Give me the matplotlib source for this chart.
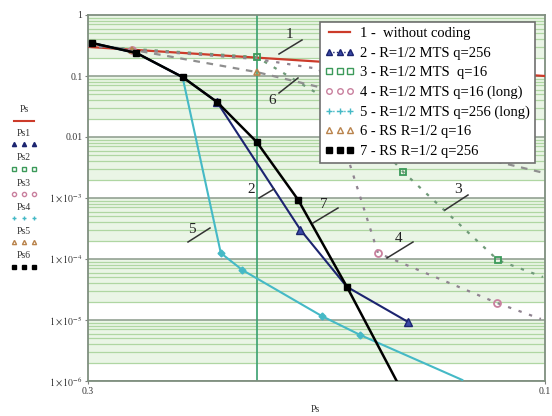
import numpy as np
import matplotlib.pyplot as plt
from matplotlib.lines import Line2D

plt.rcParams['font.family'] = ['Liberation Serif', 'DejaVu Serif']
plt.rcParams['mathtext.fontset'] = 'stix'

# 1 - without coding
ps1 = [0.3, 0.1]
pe1 = [0.3, 0.1]
# 2 - R=1/2 MTS q=256
ps2 = [0.297, 0.267, 0.239, 0.220, 0.180, 0.161, 0.139]
pe2 = [0.347, 0.238, 0.096, 0.0375, 3.0e-4, 3.5e-5, 9.3e-6]
# 3 - R=1/2 MTS q=16
ps3 = [0.3, 0.2, 0.16, 0.1406, 0.112, 0.1005]
pe3 = [0.31, 0.205, 0.025, 2.67e-3, 9.6e-5, 5.07e-5]
# 4 - R=1/2 MTS q=16 (long)
ps4 = [0.3, 0.27, 0.2, 0.172, 0.158, 0.1494, 0.1122, 0.101]
pe4 = [0.31, 0.27, 0.19, 0.13, 2.0e-3, 1.25e-4, 1.9e-5, 1.04e-5]
# 5 - R=1/2 MTS q=256 (long)
ps5 = [0.297, 0.267, 0.239, 0.218, 0.207, 0.171, 0.156, 0.122]
pe5 = [0.347, 0.238, 0.096, 1.25e-4, 6.6e-5, 1.16e-5, 5.7e-6, 1.04e-6]
# 6 - RS R=1/2 q=16
ps6 = [0.3, 0.27, 0.2, 0.16, 0.1141, 0.1005]
pe6 = [0.33, 0.27, 0.116, 0.05, 4.2e-3, 2.6e-3]
# 7 - RS R=1/2 q=256
ps7 = [0.297, 0.267, 0.239, 0.220, 0.200, 0.181, 0.161, 0.140]
pe7 = [0.347, 0.238, 0.096, 0.0375, 0.0083, 9.3e-4, 3.5e-5, 5.5e-7]

legend_txt = ['1 -  without coding', '2 - R=1/2 MTS q=256', '3 - R=1/2 MTS  q=16',
              '4 - R=1/2 MTS q=16 (long)', '5 - R=1/2 MTS q=256 (long)',
              '6 - RS R=1/2 q=16', '7 - RS R=1/2 q=256']
trace_names = ['Ps', 'Ps1', 'Ps2', 'Ps3', 'Ps4', 'Ps5', 'Ps6']

yticks = [1, 0.1, 0.01, 1e-3, 1e-4, 1e-5, 1e-6]
ytick_lab = ['1', '0.1', '0.01', r'$1\times10^{-3}$', r'$1\times10^{-4}$',
             r'$1\times10^{-5}$', r'$1\times10^{-6}$']

c1, c2, c3, c4, c5, c6, c7 = '#cc3b2a', '#1c2470', '#3c9a5a', '#c9809e', '#45b9c6', '#b9834c', 'k'

W, H = 552, 416
fig = plt.figure(figsize=(W/100, H/100), dpi=100)
ax = fig.add_axes([88/W, 1-381/H, (545-88)/W, (381-15)/H])

def px(x, y):
    return x/W, 1-y/H

# green grid of the log axis
for k in range(-6, 0):
    ax.axhspan(2*10.0**k, 10.0**(k+1), color='#eaf5e6', lw=0, zorder=0)
    for m in range(2, 10):
        ax.axhline(m*10.0**k, color='#afd6a2', lw=0.9, zorder=0.5)
    ax.axhline(10.0**k, color='#8a9a8a', lw=1.1, zorder=0.6)
ax.axvline(0.2, color='#3aa070', lw=1.2, zorder=1)

ax.plot(ps1, pe1, color=c1, lw=1.6, zorder=3)
ax.plot(ps3, pe3, color='#6f9a78', lw=1.6, ls=(0, (1.5, 3.5)), zorder=3)
ax.plot(ps3, pe3, ls='none', marker='s', ms=5, mfc='none', mec=c3, mew=1.3,
        markevery=[1, 3, 4], zorder=4)
ax.plot(ps4, pe4, color='#8f8390', lw=1.6, ls=(0, (1.5, 3.5)), zorder=3)
ax.plot(ps4, pe4, ls='none', marker='o', ms=5, mfc='none', mec=c4, mew=1.3,
        markevery=[1, 5, 6], zorder=4)
ax.plot(ps6, pe6, color='#8f8f8f', lw=1.6, ls=(0, (3, 3)), zorder=3)
ax.plot(ps6, pe6, ls='none', marker='^', ms=5, mfc='none', mec=c6, mew=1.2,
        markevery=[1, 2], zorder=4)
ax.plot(ps5, pe5, color=c5, lw=1.5, marker='D', ms=3.5, mfc=c5, mec=c5,
        markevery=[3, 4, 5, 6], zorder=3)
ax.plot(ps2, pe2, color=c2, lw=1.5, marker='^', ms=6, mfc='#3b4aa8', mec=c2,
        markevery=[3, 4, 6], zorder=4)
ax.plot(ps7, pe7, color=c7, lw=1.8, marker='s', ms=5, zorder=5,
        markevery=[0, 1, 2, 3, 4, 5, 6])

ax.set_xscale('log')
ax.set_yscale('log')
ax.set_xlim(0.3, 0.1)
ax.set_ylim(1e-6, 1)
ax.set_xticks([0.3, 0.1], ['0.3', '0.1'])
ax.xaxis.set_minor_locator(plt.NullLocator())
ax.set_yticks(yticks, ytick_lab)
ax.yaxis.set_minor_locator(plt.NullLocator())
ax.tick_params(labelsize=7, length=2, color='#808080', pad=2, labelcolor='#333333')
for s in ax.spines.values():
    s.set_color('#7f8f7f')
    s.set_linewidth(1.3)

# legend box
handles = [Line2D([], [], color=c1, lw=1.6),
           Line2D([], [], color=c2, lw=1, marker='^', ms=4, mfc='#3b4aa8', ls=':'),
           Line2D([], [], color=c3, lw=0, marker='s', ms=4, mfc='none', mec=c3),
           Line2D([], [], color=c4, lw=0, marker='o', ms=4, mfc='none', mec=c4),
           Line2D([], [], color=c5, lw=1, marker='+', ms=4, ls=':'),
           Line2D([], [], color=c6, lw=0, marker='^', ms=4, mfc='none', mec=c6),
           Line2D([], [], color=c7, lw=0, marker='s', ms=4)]
leg = ax.legend(handles, legend_txt, loc='upper left', bbox_to_anchor=px(320, 22),
                bbox_transform=fig.transFigure, borderaxespad=0, fontsize=10.5,
                numpoints=3, fancybox=False, framealpha=1, edgecolor='#707070',
                handlelength=2.0, handletextpad=0.4, labelspacing=0.43,
                borderpad=0.35)
leg.get_frame().set_linewidth(1.2)
leg.set_zorder(10)

# curve numbers with leaders
labels = [('1', (289, 34), (279, 54), (302, 40)),
          ('6', (272, 101), (279, 93), (298, 78)),
          ('2', (251, 190), (259, 198), (274, 189)),
          ('7', (324, 204), (313, 223), (338, 208)),
          ('5', (192, 229), (188, 242), (210, 228)),
          ('4', (399, 239), (387, 258), (413, 242)),
          ('3', (458, 189), (445, 210), (468, 195))]
for t, tp, a, b in labels:
    fig.text(*px(*tp), t, fontsize=11, ha='center', va='center', color='#222222')
    fig.add_artist(Line2D([a[0]/W, b[0]/W], [1-a[1]/H, 1-b[1]/H],
                          color='#333333', lw=1.1))

# trace list on the left
rows = [110, 133, 158, 183, 207, 231, 256]
samples = [dict(color=c1, lw=1.5), dict(color=c2, lw=0, marker='^', ms=3),
           dict(color=c3, lw=0, marker='s', ms=3, mfc='none'),
           dict(color=c4, lw=0, marker='o', ms=3, mfc='none'),
           dict(color=c5, lw=0, marker='+', ms=3),
           dict(color=c6, lw=0, marker='^', ms=3, mfc='none'),
           dict(color=c7, lw=0, marker='s', ms=3.5)]
for name, y, st in zip(trace_names, rows, samples):
    fig.text(*px(24, y), name, fontsize=7, ha='center', va='center', color='#333333')
    fig.add_artist(Line2D([14/W, 24/W, 34/W], [1-(y+11)/H]*3, **st))

fig.text(*px(315, 410), 'Ps', fontsize=7, ha='center', va='center', color='#333333')

fig.savefig('out.png', dpi=100)
